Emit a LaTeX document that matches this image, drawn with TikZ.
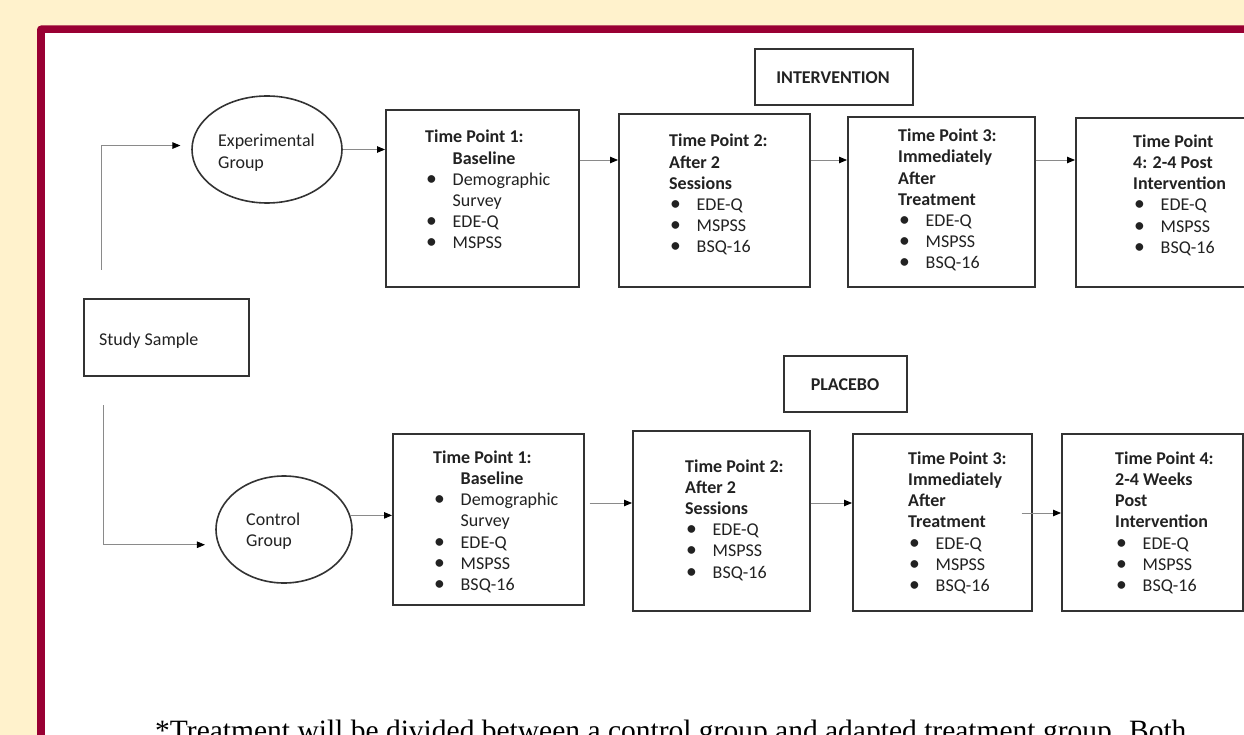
\documentclass[tikz,border=0pt]{standalone}
\usepackage{fontspec}
\setmainfont{Carlito}
\newfontfamily\tnr{Liberation Serif}
\usetikzlibrary{arrows.meta,shapes.geometric}
\definecolor{cream}{HTML}{FFF2CC}
\definecolor{maroon}{HTML}{990033}
\definecolor{boxgray}{HTML}{333333}
\definecolor{linegray}{HTML}{8A8A8A}
\definecolor{txt}{HTML}{222222}
\newcommand{\bi}[1]{\hspace*{1pt}\makebox[26.5pt][l]{\scalebox{1.2}{\textbullet}}#1}
\newcommand{\ind}[1]{\hspace*{27.5pt}#1}
\newcommand{\tlines}[1]{\begin{tabular}[t]{@{}l@{}}#1\end{tabular}}
\tikzset{
  boxs/.style={draw=boxgray, line width=1.6pt, rectangle, inner sep=0pt, anchor=north west},
  ellp/.style={draw=boxgray, line width=1.6pt, ellipse, inner sep=0pt},
  lbl/.style={anchor=base west, inner sep=0pt, text=txt, font=\fontsize{18pt}{21.2pt}\selectfont},
  clbl/.style={inner sep=0pt, text=txt, font=\fontsize{18pt}{21.2pt}\selectfont\bfseries},
  arr/.style={draw=linegray, line width=0.8pt, -{Triangle[length=8pt,width=6.5pt,color=black]}}
}
\begin{document}
\begin{tikzpicture}[x=1pt,y=-1pt]
\useasboundingbox (0,0) rectangle (1244,735);
\clip (0,0) rectangle (1244,735);
\fill[cream] (0,0) rectangle (1244,735);
\fill[maroon, rounded corners=4pt] (37,25.5) rectangle (1300,800);
\fill[white] (45,33.5) rectangle (1300,800);

% top row
\node[ellp, minimum width=150pt, minimum height=107pt] (eg) at (267,149.5) {};
\node[lbl] (egt) at (218,147) {\tlines{Experimental\\Group}};
\node[boxs, minimum width=193pt, minimum height=177pt] (t1) at (385,109) {};
\node[boxs, minimum width=191pt, minimum height=173pt] (t2) at (618,113) {};
\node[boxs, minimum width=187pt, minimum height=170pt] (t3) at (847,116) {};
\node[boxs, minimum width=180pt, minimum height=169pt] (t4) at (1075,117) {};
\node[boxs, minimum width=158pt, minimum height=56pt] (int) at (754,48) {};
\node[clbl] (intt) at (833,78) {INTERVENTION};

\node[lbl] (t1t) at (425,143) {\tlines{\textbf{Time Point 1:}\\\ind{\textbf{Baseline}}\\\bi{Demographic}\\\ind{Survey}\\\bi{EDE-Q}\\\bi{MSPSS}}};
\node[lbl] (t2t) at (669,147) {\tlines{\textbf{Time Point 2:}\\\textbf{After 2}\\\textbf{Sessions}\\\bi{EDE-Q}\\\bi{MSPSS}\\\bi{BSQ-16}}};
\node[lbl] (t3t) at (898,141.7) {\tlines{\textbf{Time Point 3:}\\\textbf{Immediately}\\\textbf{After}\\\textbf{Treatment}\\\bi{EDE-Q}\\\bi{MSPSS}\\\bi{BSQ-16}}};
\node[lbl] (t4t) at (1133,147.3) {\tlines{\textbf{Time Point}\\\textbf{4: 2-4 Post}\\\textbf{Intervention}\\\bi{EDE-Q}\\\bi{MSPSS}\\\bi{BSQ-16}}};

% study sample
\node[boxs, minimum width=165pt, minimum height=77pt] (ss) at (83,298) {};
\node[lbl] (sst) at (99,345) {Study Sample};

% bottom row
\node[ellp, minimum width=136pt, minimum height=107pt] (cg) at (284,529.5) {};
\node[lbl] (cgt) at (246,525) {\tlines{Control\\Group}};
\node[boxs, minimum width=191pt, minimum height=171pt] (b1) at (392,433) {};
\node[boxs, minimum width=177pt, minimum height=180pt] (b2) at (632,430) {};
\node[boxs, minimum width=179pt, minimum height=177pt] (b3) at (852,433) {};
\node[boxs, minimum width=181pt, minimum height=177pt] (b4) at (1061,433) {};
\node[boxs, minimum width=123pt, minimum height=56pt] (plc) at (783,355) {};
\node[clbl] (plct) at (845,385) {PLACEBO};

\node[lbl] (b1t) at (433,463.3) {\tlines{\textbf{Time Point 1:}\\\ind{\textbf{Baseline}}\\\bi{Demographic}\\\ind{Survey}\\\bi{EDE-Q}\\\bi{MSPSS}\\\bi{BSQ-16}}};
\node[lbl] (b2t) at (685,472) {\tlines{\textbf{Time Point 2:}\\\textbf{After 2}\\\textbf{Sessions}\\\bi{EDE-Q}\\\bi{MSPSS}\\\bi{BSQ-16}}};
\node[lbl] (b3t) at (908,464.3) {\tlines{\textbf{Time Point 3:}\\\textbf{Immediately}\\\textbf{After}\\\textbf{Treatment}\\\bi{EDE-Q}\\\bi{MSPSS}\\\bi{BSQ-16}}};
\node[lbl] (b4t) at (1115,464.3) {\tlines{\textbf{Time Point 4:}\\\textbf{2-4 Weeks}\\\textbf{Post}\\\textbf{Intervention}\\\bi{EDE-Q}\\\bi{MSPSS}\\\bi{BSQ-16}}};

% connectors
\coordinate (s1) at (101.5,270);
\coordinate (s2) at (103,405);
\coordinate (yA) at (0,160);
\coordinate (yB) at (0,503);
\coordinate (yC) at (0,513);
\draw[arr, shorten >=11pt] (s1) |- (eg.177.3);
\draw[arr, shorten >=13pt] (s2) |- (cg.193.4);
\draw[arr] (eg.east) -- (eg.east -| t1.west);
\draw[arr] (t1.east |- yA) -- (t2.west |- yA);
\draw[arr] (t2.east |- yA) -- (t3.west |- yA);
\draw[arr] (t3.east |- yA) -- (t4.west |- yA);
\draw[arr] (cg.12.5) -- (cg.12.5 -| b1.west);
\draw[arr, shorten <=5pt] (b1.east |- yB) -- (b2.west |- yB);
\draw[arr] (b2.east |- yB) -- (b3.west |- yB);
\draw[arr, shorten <=-11pt] (b3.east |- yC) -- (b4.west |- yC);

% footnote
\node[anchor=base west, inner sep=0pt, text=black, font=\tnr\fontsize{29.5pt}{34pt}\selectfont] (note) at (155,740) {*Treatment will be divided between a control group and adapted treatment group. Both};
\end{tikzpicture}
\end{document}
